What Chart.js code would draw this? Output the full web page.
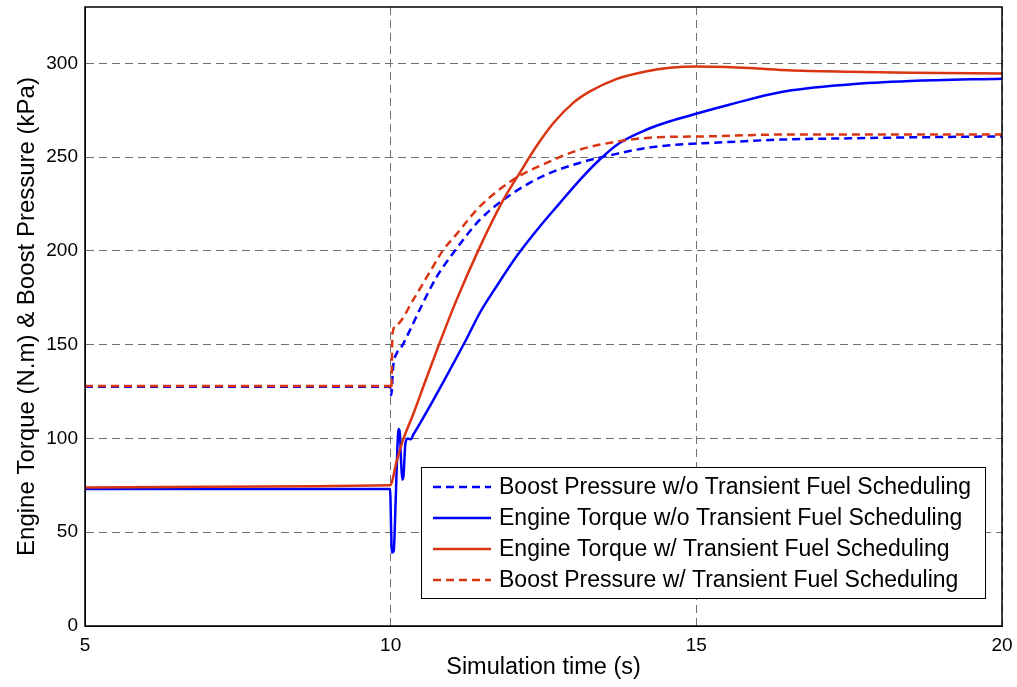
<!DOCTYPE html>
<html lang="en">
<head>
  <meta charset="UTF-8">
  <title>Engine Torque & Boost Pressure</title>
  <script src="https://cdn.jsdelivr.net/npm/chart.js"></script>
  <style>
    body { margin: 0; background: #fff; }
  </style>
</head>
<body>
  <canvas id="chart" width="1017" height="687"></canvas>

  <script>
    // data (time in s)
    const tBoostWo = [5, 7, 9.99, 10.01, 10.04, 10.1, 10.18, 10.32, 10.48, 10.75, 11.05, 11.46, 12.01, 12.55, 13.1, 13.64, 14.19, 14.73, 15.28, 16.37, 17.5, 18.5, 20];
    const boostWo  = [127.5, 127.5, 127.5, 123, 138, 145.5, 149, 158, 169, 186, 200, 216.6, 231, 240.7, 247, 251.3, 254.9, 256.7, 257.6, 259.3, 260, 260.5, 261];

    const tTorqueWo = [5, 9.99, 10.01, 10.02, 10.05, 10.08, 10.11, 10.13, 10.15, 10.17, 10.19, 10.21, 10.24, 10.28, 10.33, 10.37, 10.48, 10.69, 10.86, 11.24, 11.46, 11.73, 12.08, 12.44, 12.77, 13.1, 13.42, 13.75, 14.19, 14.57, 15.01, 15.55, 16.37, 17.5, 18.5, 20];
    const torqueWo  = [73, 73, 48, 39, 40, 65, 95, 105, 103, 88, 78, 80, 97, 100, 99.5, 102, 108, 120, 130, 153, 167, 181, 198, 213, 225.6, 238, 248.7, 257.6, 264.7, 269.1, 273.2, 278, 284.6, 288.7, 290.5, 291.8];

    const tTorqueW = [5, 7, 9.99, 10.1, 10.2, 10.37, 10.55, 10.79, 11.08, 11.43, 11.84, 12.12, 12.39, 12.66, 12.99, 13.26, 13.7, 14.19, 14.57, 15.0, 15.5, 16.0, 16.5, 17.5, 18.5, 20];
    const torqueW  = [73.8, 74.3, 75, 88, 99, 113, 129, 150, 174, 200, 227, 242, 256, 268, 279, 285, 291.7, 295.8, 297.6, 298.3, 298, 297.2, 296.3, 295.5, 295, 294.6];

    const tBoostW = [5, 7, 9.99, 10.01, 10.03, 10.1, 10.37, 10.7, 10.85, 11.08, 11.46, 12.01, 12.55, 13.1, 13.64, 14.19, 15.28, 16.37, 18, 20];
    const boostW  = [128, 128, 128, 126, 156, 160.6, 174, 192, 200, 209, 223.7, 238, 246.9, 254, 257.9, 260.2, 261.1, 262, 262, 262];

    const seriesNames = [
      'Boost Pressure w/o Transient Fuel Scheduling',
      'Engine Torque w/o Transient Fuel Scheduling',
      'Engine Torque w/ Transient Fuel Scheduling',
      'Boost Pressure w/ Transient Fuel Scheduling'
    ];
    const xTicks = [5, 10, 15, 20];
    const yTicks = [0, 50, 100, 150, 200, 250, 300];

    const BLUE = '#0000ff';
    const RED = '#da3513';

    const toPoints = (t, v) => t.map((x, i) => ({ x: x, y: v[i] }));

    Chart.defaults.font.family = "'Liberation Sans', Arial, sans-serif";
    Chart.defaults.color = '#000';

    // black box round the plot area
    const frame = {
      id: 'frame',
      afterDatasetsDraw(chart) {
        const { ctx, chartArea: a } = chart;
        ctx.save();
        ctx.strokeStyle = '#000';
        ctx.lineWidth = 1.5;
        ctx.strokeRect(a.left, a.top, a.right - a.left, a.bottom - a.top);
        ctx.restore();
      }
    };

    // legend box in the lower right corner, like MATLAB
    const boxLegend = {
      id: 'boxLegend',
      afterDraw(chart) {
        const { ctx, chartArea: a } = chart;
        const w = 564, h = 131;
        const x0 = a.right - 17 - w, y0 = a.bottom - 28 - h;
        ctx.save();
        ctx.fillStyle = '#fff';
        ctx.fillRect(x0, y0, w, h);
        ctx.strokeStyle = '#000';
        ctx.lineWidth = 1;
        ctx.strokeRect(x0 + 0.5, y0 + 0.5, w, h);
        ctx.font = "23px 'Liberation Sans', Arial, sans-serif";
        ctx.textBaseline = 'middle';
        chart.data.datasets.forEach((ds, i) => {
          const y = y0 + 20 + i * 31;
          ctx.strokeStyle = ds.borderColor;
          ctx.lineWidth = 2.5;
          ctx.setLineDash(ds.borderDash || []);
          ctx.beginPath();
          ctx.moveTo(x0 + 12, y);
          ctx.lineTo(x0 + 70, y);
          ctx.stroke();
          ctx.setLineDash([]);
          ctx.fillStyle = '#000';
          ctx.fillText(ds.label, x0 + 78, y + 1);
        });
        ctx.restore();
      }
    };

    const ctx = document.getElementById('chart').getContext('2d');
    new Chart(ctx, {
      type: 'line',
      data: {
        datasets: [
          { label: seriesNames[0], data: toPoints(tBoostWo, boostWo), borderColor: BLUE, borderDash: [8, 5], order: 1 },
          { label: seriesNames[1], data: toPoints(tTorqueWo, torqueWo), borderColor: BLUE, order: 1 },
          { label: seriesNames[2], data: toPoints(tTorqueW, torqueW), borderColor: RED, order: 0 },
          { label: seriesNames[3], data: toPoints(tBoostW, boostW), borderColor: RED, borderDash: [8, 5], order: 0 }
        ]
      },
      options: {
        responsive: false,
        animation: false,
        datasets: {
          line: { borderWidth: 2.5, pointRadius: 0, fill: false, cubicInterpolationMode: 'monotone' }
        },
        layout: { padding: { top: 7, right: 15, left: 0, bottom: 0 } },
        plugins: {
          legend: { display: false },
          tooltip: { enabled: false }
        },
        scales: {
          x: {
            type: 'linear',
            min: 5,
            max: 20,
            afterBuildTicks: s => { s.ticks = xTicks.map(v => ({ value: v })); },
            afterFit: s => { s.height = 61; s.paddingLeft = 0; s.paddingRight = 0; },
            grid: { color: '#707070', lineWidth: 1, drawTicks: false },
            border: { color: '#000', dash: [8, 5] },
            ticks: { font: { size: 19 }, padding: 8 },
            title: { display: true, text: 'Simulation time (s)', font: { size: 23.5 }, padding: { top: 0, bottom: 5 } }
          },
          y: {
            min: 0,
            max: 330,
            afterBuildTicks: s => { s.ticks = yTicks.map(v => ({ value: v })); },
            afterFit: s => { s.width = 85; s.paddingTop = 0; s.paddingBottom = 0; },
            grid: { color: '#707070', lineWidth: 1, drawTicks: false },
            border: { color: '#000', dash: [8, 5] },
            ticks: { font: { size: 19 }, padding: 7 },
            title: { display: true, text: 'Engine Torque (N.m) & Boost Pressure (kPa)', font: { size: 24 }, padding: { top: 13, bottom: 0 } }
          }
        }
      },
      plugins: [frame, boxLegend]
    });
  </script>
</body>
</html>
